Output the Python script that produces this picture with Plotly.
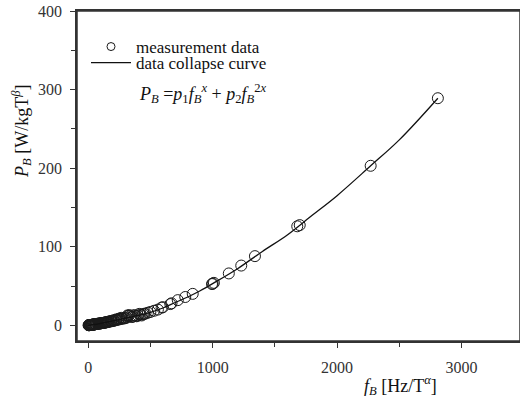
import plotly.graph_objects as go

# measured points (f_B, P_B)
f_meas = [3, 5, 6, 8, 10, 12, 14, 15, 18, 20, 22, 25, 28, 30, 32, 35, 38, 40, 45, 48,
          50, 55, 58, 60, 65, 70, 75, 80, 85, 90, 95, 100, 105, 110, 115, 120, 125, 130,
          135, 140, 145, 150, 155, 160, 165, 170, 180, 185, 190, 200, 205, 210, 220, 225,
          230, 240, 245, 250, 260, 265, 270, 280, 290, 300, 310, 315, 320, 330, 340, 350,
          360, 370, 380, 390, 400, 410, 420, 430, 440, 450, 460, 480, 500, 530, 560, 590,
          600, 660, 670, 720, 780, 840, 995, 1000, 1010, 1130, 1230, 1340, 1680, 1700,
          2270, 2810]
p_meas = [0.1, 0.1, 0.15, 0.15, 0.2, 0.25, 0.3, 0.3, 0.35, 0.4, 0.45, 0.5, 0.55, 0.6, 0.7, 0.8, 0.85, 0.9, 1.0, 1.1,
          1.2, 1.3, 1.4, 1.5, 1.6, 1.8, 1.9, 2.0, 2.1, 2.2, 2.4, 2.5, 2.6, 2.8, 2.9, 3.0, 3.2, 3.3,
          3.5, 3.6, 3.8, 4.0, 4.2, 4.4, 4.6, 4.8, 5.0, 5.5, 5.2, 5.5, 6.5, 6.0, 6.5, 7.5,
          7.0, 7.0, 8.0, 8.5, 8.0, 9.5, 8.5, 8.5, 9.0, 9.0, 10.0, 12.5, 12.0, 13.0, 11.5, 10.5,
          11.0, 13.0, 12.0, 11.5, 12.5, 14.5, 13.5, 12.5, 14.0, 14.5, 15.0, 16.0, 17.0, 18.5, 20.0, 22.5,
          23.0, 27.0, 28.0, 32.0, 36.0, 40.0, 52.5, 53.0, 54.0, 66.0, 76.0, 88.0, 126.0, 127.5,
          203.0, 289.0]

# fitted data collapse curve
f_fit = [0, 50, 100, 200, 300, 400, 500, 600, 700, 800, 900, 1000, 1200, 1400, 1600, 1800,
         2000, 2270, 2500, 2810]
p_fit = [0, 1.0, 2.5, 5.5, 9.0, 12.5, 16.5, 22.0, 29.0, 36.0, 44.0, 53.0, 72.0, 94.0, 115.0, 140.0,
         165.0, 203.0, 236.0, 289.0]

FONT = "Liberation Serif, Times New Roman, serif"
AXIS = '#333333'
INK = '#111111'

L, R, T, B = 77, 520, 11, 341           # plot box in window pixels


def px(x):
    return (x - L) / (R - L)


def py(y):
    return (B - y) / (B - T)


fig = go.Figure()

fig.add_trace(go.Scatter(
    x=f_meas, y=p_meas, mode='markers', showlegend=False,
    marker=dict(symbol='circle-open', size=11, color='#1a1a1a', line=dict(width=1))
))
# legend-only entry, the legend circle is smaller than the data markers
fig.add_trace(go.Scatter(
    x=[None], y=[None], mode='markers', name='measurement data', legend='legend',
    marker=dict(symbol='circle-open', size=8, color='#1a1a1a', line=dict(width=1))
))
fig.add_trace(go.Scatter(
    x=f_fit, y=p_fit, mode='lines', name='data collapse curve', legend='legend2',
    line=dict(color=INK, width=1.3, shape='spline')
))

# frame around the plot area
fig.add_shape(type='rect', xref='x domain', yref='y domain', x0=0, x1=1, y0=0, y1=1,
              line=dict(color=AXIS, width=1.5), fillcolor='rgba(0,0,0,0)', layer='above')

# fit formula under the legend
fig.add_annotation(
    x=px(137), y=py(93), xref='paper', yref='paper',
    xanchor='left', yanchor='middle', showarrow=False,
    font=dict(family=FONT, size=18, color=INK),
    text="<i>P</i><sub><i>B</i></sub> =<i>p</i><sub>1</sub><i>f</i><sub><i>B</i></sub><sup><i>x</i></sup>"
         " + <i>p</i><sub>2</sub><i>f</i><sub><i>B</i></sub><sup>2<i>x</i></sup>"
)
# axis titles
fig.add_annotation(
    x=px(400), y=py(385), xref='paper', yref='paper',
    xanchor='center', yanchor='middle', showarrow=False,
    font=dict(family=FONT, size=18, color=INK),
    text="<i>f</i><sub><i>B</i></sub> [Hz/T<sup><i>α</i></sup>]"
)
fig.add_annotation(
    x=px(21), y=py(132), xref='paper', yref='paper',
    xanchor='center', yanchor='middle', showarrow=False, textangle=-90,
    font=dict(family=FONT, size=18, color=INK),
    text="<i>P</i><sub><i>B</i></sub> [W/kgT<sup><i>β</i></sup>]"
)

legend_font = dict(family=FONT, size=17, color=INK)
fig.update_layout(
    width=520, height=408,
    margin=dict(l=L, r=0, t=T, b=408 - B),
    plot_bgcolor='white', paper_bgcolor='white',
    font=dict(family=FONT, size=16, color='#333333'),
    showlegend=True,
    legend=dict(x=px(86), y=py(47), xanchor='left', yanchor='middle', bgcolor='rgba(0,0,0,0)',
                font=legend_font, itemwidth=40),
    legend2=dict(x=px(86), y=py(63), xanchor='left', yanchor='middle', bgcolor='rgba(0,0,0,0)',
                 font=legend_font, itemwidth=40),
    xaxis=dict(
        range=[-90, 3470], tickvals=[0, 1000, 2000, 3000], ticks='outside', ticklen=5,
        tickcolor=AXIS, showline=True, linecolor=AXIS, linewidth=1.5, mirror=True,
        showgrid=False, zeroline=False, automargin=False, ticklabelstandoff=6,
        minor=dict(tickvals=[500, 1500, 2500], ticks='outside', ticklen=4, tickcolor=AXIS),
    ),
    yaxis=dict(
        range=[-20, 400], tickvals=[0, 100, 200, 300, 400], ticks='outside', ticklen=5,
        tickcolor=AXIS, showline=True, linecolor=AXIS, linewidth=1.5,
        showgrid=False, zeroline=False, automargin=False, ticklabelstandoff=5,
        minor=dict(tickvals=[50, 150, 250, 350], ticks='outside', ticklen=4, tickcolor=AXIS),
    ),
)

# drop the browser's default 8px body margin so the figure fills the window
fig.write_html("out.html", config={'displayModeBar': False},
               post_script="document.body.style.margin='0';")
